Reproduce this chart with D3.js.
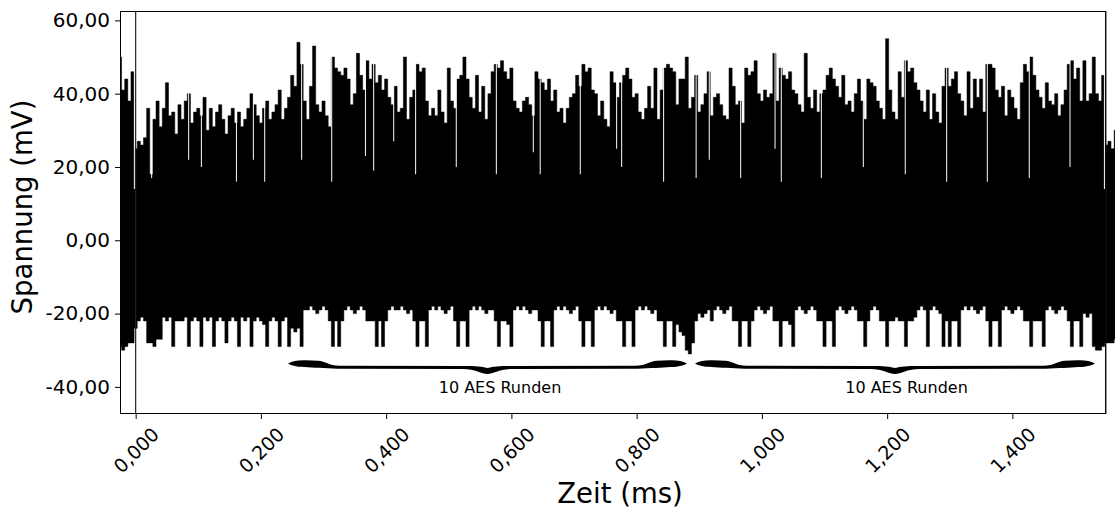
<!DOCTYPE html>
<html>
<head>
<meta charset="utf-8">
<script src="https://cdn.jsdelivr.net/npm/d3@7/dist/d3.min.js"></script>
<style>
  html, body { margin: 0; padding: 0; background: #fff; }
  svg { display: block; }
  text { font-family: "DejaVu Sans", sans-serif; fill: #000; }
</style>
</head>
<body>
<svg id="chart" width="1115" height="508"></svg>
<script>
// ---- data ----
const sampleStart = -0.025;   // ms, first envelope sample
const sampleStep = 0.005;     // ms between envelope samples
// upper envelope of the trace (mV)
const upperEnvelope = [
  50, 41, 44, 38, 46, 25, 27, 26, 28, 36,
  18, 33, 38, 31, 36, 43, 34, 35, 29, 37,
  33, 38, 40, 32, 35, 36, 34, 39, 30, 36,
  31, 35, 37, 33, 29, 34, 36, 32, 35, 31,
  33, 36, 40, 37, 34, 32, 36, 38, 33, 35,
  37, 41, 33, 36, 39, 45, 42, 54, 48, 38,
  33, 42, 53, 37, 35, 38, 34, 31, 50, 47,
  46, 45, 47, 44, 37, 40, 51, 45, 41, 49,
  44, 48, 43, 45, 41, 44, 39, 37, 42, 35,
  36, 50, 33, 39, 41, 48, 46, 47, 38, 34,
  36, 34, 41, 35, 32, 47, 38, 36, 44, 45,
  50, 44, 39, 36, 45, 35, 42, 33, 40, 46,
  48, 47, 49, 46, 44, 47, 38, 36, 35, 38,
  39, 37, 34, 46, 44, 43, 41, 44, 38, 41,
  35, 36, 32, 36, 39, 40, 45, 42, 48, 46,
  47, 41, 40, 34, 38, 33, 31, 46, 43, 39,
  43, 45, 47, 44, 39, 40, 35, 33, 36, 42,
  36, 47, 33, 41, 47, 48, 47, 46, 37, 44,
  44, 50, 36, 39, 45, 35, 37, 40, 46, 34,
  39, 40, 37, 34, 33, 47, 42, 37, 38, 32,
  47, 45, 46, 49, 40, 38, 41, 39, 40, 51,
  38, 47, 45, 44, 46, 41, 40, 37, 35, 51,
  39, 36, 41, 35, 40, 41, 45, 47, 44, 42,
  39, 45, 37, 38, 35, 40, 44, 38, 33, 44,
  43, 42, 38, 36, 33, 55, 41, 35, 33, 46,
  39, 49, 46, 47, 43, 41, 38, 35, 41, 33,
  40, 35, 32, 42, 47, 42, 44, 46, 40, 38,
  34, 46, 36, 44, 39, 44, 35, 48, 48, 47,
  41, 39, 42, 34, 41, 39, 36, 33, 43, 48,
  46, 50, 45, 41, 39, 36, 43, 38, 37, 40,
  34, 37, 41, 48, 49, 44, 47, 38, 49, 38,
  40, 50, 40, 38, 45, 26, 27, 25, 30
];
// lower envelope of the trace (mV)
const lowerEnvelope = [
  -29, -30, -29, -28, -28, -24, -22, -21, -22, -28,
  -28, -29, -27, -27, -21, -22, -21, -29, -22, -22,
  -22, -21, -29, -22, -21, -22, -29, -21, -22, -21,
  -29, -22, -21, -22, -28, -22, -21, -22, -29, -21,
  -22, -21, -29, -22, -21, -22, -23, -29, -22, -21,
  -22, -29, -22, -21, -29, -24, -25, -24, -29, -19,
  -19, -18, -19, -20, -19, -18, -19, -22, -29, -22,
  -29, -22, -19, -18, -19, -20, -19, -18, -19, -22,
  -22, -22, -29, -22, -29, -22, -19, -18, -19, -19,
  -18, -19, -20, -19, -22, -29, -22, -22, -29, -19,
  -18, -19, -18, -19, -20, -19, -18, -22, -29, -22,
  -22, -29, -19, -18, -19, -18, -19, -20, -19, -19,
  -22, -29, -22, -22, -23, -29, -19, -18, -19, -18,
  -19, -20, -19, -19, -22, -29, -22, -22, -29, -19,
  -18, -19, -18, -19, -20, -19, -18, -22, -29, -22,
  -22, -29, -19, -18, -19, -18, -19, -20, -19, -22,
  -22, -29, -22, -22, -29, -19, -18, -19, -18, -19,
  -20, -19, -22, -22, -29, -22, -22, -29, -23, -25,
  -26, -30, -31, -28, -22, -20, -21, -20, -19, -22,
  -19, -18, -19, -20, -19, -18, -22, -22, -29, -22,
  -22, -29, -22, -19, -18, -19, -20, -19, -18, -22,
  -22, -29, -22, -22, -23, -29, -19, -18, -19, -20,
  -19, -18, -19, -22, -22, -29, -22, -22, -29, -19,
  -18, -19, -20, -19, -18, -19, -22, -22, -29, -22,
  -19, -18, -19, -22, -22, -29, -22, -22, -21, -22,
  -22, -29, -22, -22, -21, -19, -18, -19, -29, -19,
  -18, -19, -20, -29, -22, -29, -22, -22, -29, -19,
  -18, -19, -18, -19, -20, -19, -18, -22, -29, -22,
  -22, -29, -19, -18, -19, -20, -19, -18, -19, -22,
  -22, -29, -22, -22, -22, -29, -19, -18, -19, -20,
  -19, -18, -19, -22, -29, -22, -22, -29, -20, -21,
  -20, -29, -30, -30, -29, -28, -28, -28, -27
];
// thin gaps where the trace drops deep inside the dark band (time ms, depth mV)
const dipTimes  = [-0.002, 0.0255, 0.0846, 0.105, 0.161, 0.188, 0.206, 0.265, 0.313, 0.367, 0.380, 0.412, 0.447, 0.512, 0.576, 0.635, 0.646, 0.710, 0.768, 0.776, 0.843, 0.895, 0.916, 0.966, 1.021, 1.031, 1.095, 1.162, 1.229, 1.295, 1.360, 1.427, 1.492, 1.547];
const dipValues = [14, 17, 22, 20, 16, 22, 16, 22, 16, 23, 19, 27, 18, 20, 18, 24, 18, 18, 25, 20, 16, 17, 22, 17, 25, 16, 17, 20, 18, 16, 16, 17, 20, 14];
// reference vertical markers (ms)
const markerTimes = [0, 1.549];
// braces marking the AES rounds (ms)
const braceStarts = [0.2432, 0.8932];
const braceEnds   = [0.8804, 1.5319];
const braceLabelTimes = [0.5818, 1.2309];
const braceLabels = ["10 AES Runden", "10 AES Runden"];
const braceLevel = -34.6;      // mV
const braceLabelLevel = -41.7; // mV
// axes
const xTicks = [0, 0.2, 0.4, 0.6, 0.8, 1.0, 1.2, 1.4];
const yTicks = [-40, -20, 0, 20, 40, 60];
const xDomain = [-0.025, 1.549];
const yDomain = [-47.4, 62.56];
const xTitle = "Zeit (ms)";
const yTitle = "Spannung (mV)";

// ---- drawing ----
const svg = d3.select("#chart");
const L = 120, R = 1105.7, T = 11, B = 414;
const x = d3.scaleLinear().domain(xDomain).range([L, R]);
const y = d3.scaleLinear().domain(yDomain).range([B, T]);

const loc = d3.formatLocale({decimal: ",", thousands: ".", grouping: [3], currency: ["", "€"], minus: "-"});
const fx = loc.format(".3f"), fy = loc.format(".2f");

svg.append("defs").append("clipPath").attr("id", "clip")
  .append("rect").attr("x", L).attr("y", 0).attr("width", 1115 - L + 5).attr("height", B);

const samples = upperEnvelope.map((u, i) => ({t: sampleStart + i * sampleStep, hi: u, lo: lowerEnvelope[i]}));

const g = svg.append("g").attr("clip-path", "url(#clip)");
g.append("path")
  .datum(samples)
  .attr("d", d3.area().x(d => x(d.t)).y0(d => y(d.lo)).y1(d => y(d.hi)).curve(d3.curveStep))
  .attr("fill", "#000")
  .attr("stroke", "#000")
  .attr("stroke-width", 0.5);

// thin light streaks, drawn only inside the dark band
g.selectAll("line.dip").data(dipTimes).enter().append("line")
  .attr("class", "dip")
  .attr("x1", d => x(d)).attr("x2", d => x(d))
  .attr("y1", y(60)).attr("y2", (d, i) => y(dipValues[i]))
  .attr("stroke", "#fff").attr("stroke-opacity", 0.9).attr("stroke-width", 1.1);

// vertical markers
svg.selectAll("line.marker").data(markerTimes).enter().append("line")
  .attr("x1", d => x(d)).attr("x2", d => x(d))
  .attr("y1", T).attr("y2", B)
  .attr("stroke", "#222").attr("stroke-width", 1.2);

// braces
function bracePath(X0, X1, Y) {
  const Xm = (X0 + X1) / 2;
  const p = d3.path();
  p.moveTo(X0, Y - 3.5);
  p.bezierCurveTo(X0 + 5, Y - 6.5, X0 + 10, Y - 7, X0 + 18, Y - 6.8);
  p.lineTo(X0 + 30, Y - 6.4);
  p.bezierCurveTo(X0 + 38, Y - 6, X0 + 40, Y - 1.5, X0 + 52, Y - 1.4);
  p.lineTo(Xm - 20, Y - 1.2);
  p.bezierCurveTo(Xm - 8, Y - 1, Xm - 3, Y, Xm, Y + 1);
  p.bezierCurveTo(Xm + 3, Y, Xm + 8, Y - 1, Xm + 20, Y - 1.2);
  p.lineTo(X1 - 52, Y - 1.4);
  p.bezierCurveTo(X1 - 40, Y - 1.5, X1 - 38, Y - 6, X1 - 30, Y - 6.4);
  p.lineTo(X1 - 18, Y - 6.8);
  p.bezierCurveTo(X1 - 10, Y - 7, X1 - 5, Y - 6.5, X1, Y - 3.5);
  p.bezierCurveTo(X1 - 5, Y - 0.8, X1 - 10, Y, X1 - 20, Y + 0.2);
  p.bezierCurveTo(X1 - 30, Y + 0.6, X1 - 40, Y + 1.6, X1 - 55, Y + 1.7);
  p.lineTo(Xm + 25, Y + 1.8);
  p.bezierCurveTo(Xm + 12, Y + 2, Xm + 6, Y + 6.5, Xm, Y + 7);
  p.bezierCurveTo(Xm - 6, Y + 6.5, Xm - 12, Y + 2, Xm - 25, Y + 1.8);
  p.lineTo(X0 + 55, Y + 1.7);
  p.bezierCurveTo(X0 + 40, Y + 1.6, X0 + 30, Y + 0.6, X0 + 20, Y + 0.2);
  p.bezierCurveTo(X0 + 10, Y, X0 + 5, Y - 0.8, X0, Y - 3.5);
  p.closePath();
  return p.toString();
}
svg.selectAll("path.brace").data(braceStarts).enter().append("path")
  .attr("class", "brace")
  .attr("d", (d, i) => bracePath(x(d), x(braceEnds[i]), y(braceLevel)))
  .attr("fill", "#000");
svg.selectAll("text.bl").data(braceLabels).enter().append("text")
  .attr("class", "bl")
  .attr("x", (d, i) => x(braceLabelTimes[i])).attr("y", y(braceLabelLevel))
  .attr("text-anchor", "middle").attr("font-size", 16).text(d => d);

// axes
const xAxis = svg.append("g").attr("transform", `translate(0,${B})`)
  .call(d3.axisBottom(x).tickValues(xTicks).tickSize(5).tickSizeOuter(0).tickFormat(fx));
xAxis.select(".domain").remove();
xAxis.selectAll(".tick line").attr("stroke", "#000").attr("stroke-width", 1);
xAxis.selectAll(".tick text")
  .attr("font-size", 19).attr("font-family", "DejaVu Sans")
  .attr("text-anchor", "middle").attr("dominant-baseline", "central")
  .attr("y", 0).attr("dy", 0)
  .attr("transform", "translate(0,36) rotate(-45)");

const yAxis = svg.append("g").attr("transform", `translate(${L},0)`)
  .call(d3.axisLeft(y).tickValues(yTicks).tickSize(5).tickSizeOuter(0).tickPadding(5).tickFormat(fy));
yAxis.select(".domain").remove();
yAxis.selectAll(".tick line").attr("stroke", "#000").attr("stroke-width", 1);
yAxis.selectAll(".tick text").attr("font-size", 20).attr("font-family", "DejaVu Sans");

// spines
svg.append("rect").attr("x", L + 0.5).attr("y", T + 0.5).attr("width", R - L - 0.5).attr("height", B - T - 1)
  .attr("fill", "none").attr("stroke", "#000").attr("stroke-width", 1);

// titles
svg.append("text").attr("x", 620).attr("y", 503).attr("text-anchor", "middle")
  .attr("font-size", 27.5).text(xTitle);
svg.append("text").attr("transform", "translate(32,207) rotate(-90)").attr("text-anchor", "middle")
  .attr("font-size", 27.5).text(yTitle);
</script>
</body>
</html>
